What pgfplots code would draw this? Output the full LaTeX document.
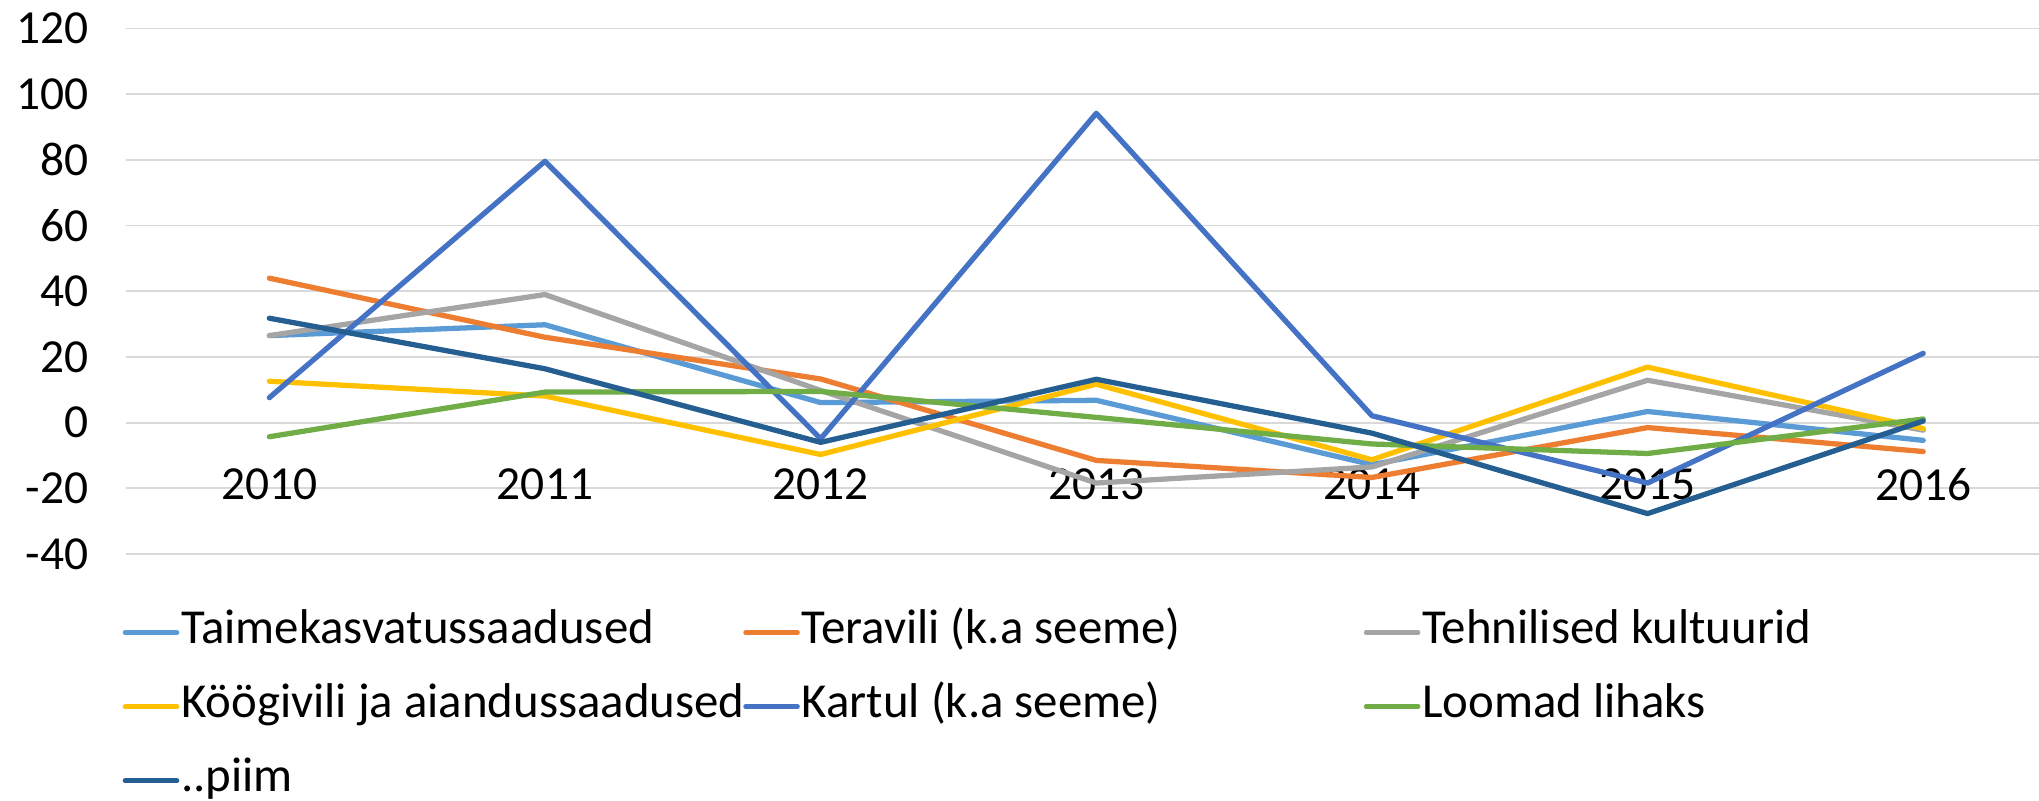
\documentclass[border=0pt]{standalone}
\usepackage{fontspec}
\setmainfont{Carlito}
\usepackage{pgfplots}
\usepackage{pgfplotstable}
\usetikzlibrary{calc}
\pgfplotsset{compat=1.18}

\definecolor{taime}{HTML}{5B9BD5}
\definecolor{tera}{HTML}{ED7D31}
\definecolor{tehn}{HTML}{A5A5A5}
\definecolor{kook}{HTML}{FFC000}
\definecolor{kartul}{HTML}{4472C4}
\definecolor{loomad}{HTML}{70AD47}
\definecolor{piim}{HTML}{255E91}
\definecolor{gridgray}{HTML}{D9D9D9}

% year index 0..6 = 2010..2016
\pgfplotstableread{
x taime tera tehn kook kartul loomad piim
0 26.5 44.0 26.5 12.6 7.6 -4.3 31.8
1 29.8 26.0 39.0 8.1 79.6 9.3 16.4
2 6.1 13.3 9.8 -9.7 -4.9 9.5 -6.0
3 6.8 -11.5 -18.4 11.7 94.2 1.6 13.2
4 -12.8 -16.7 -13.5 -11.3 2.1 -6.5 -3.2
5 3.4 -1.5 12.9 16.9 -18.4 -9.4 -27.7
6 -5.4 -8.8 -2.3 -1.8 21.1 1.1 0.5
}\datatable

\newcommand{\legtext}[1]{\makebox[56mm][l]{#1}}

\begin{document}
\begin{tikzpicture}
\begin{axis}[
  scale only axis,
  width=191.3mm,
  height=52.54mm,
  xmin=-0.52, xmax=6.42,
  ymin=-40, ymax=120,
  xtick={0,1,2,3,4,5,6},
  xticklabels={2010,2011,2012,2013,2014,2015,2016},
  ytick={-40,-20,0,20,40,60,80,100,120},
  yticklabels={-40,-20,0,20,40,60,80,100,120},
  xtick pos=bottom, ytick pos=left,
  major tick length=0pt,
  axis line style={draw=none},
  ymajorgrids=true,
  grid style={draw=gridgray, line width=0.5pt},
  tick label style={font=\fontsize{13.5pt}{16pt}\selectfont},
  xticklabel style={anchor=north, yshift=9.8mm},
  yticklabel style={anchor=east, xshift=-2.5mm},
  every axis plot/.append style={line width=1.5pt, line cap=round, line join=round},
  legend columns=3,
  legend image code/.code={\draw[#1, line width=1.3pt] (0.2mm,0mm) -- (5.4mm,0mm);},
  legend cell align=left,
  legend style={
    at={(rel axis cs:0,0)}, anchor=north west,
    xshift=-0.4mm, yshift=-5.7mm,
    draw=none, fill=none, inner sep=0pt,
    font=\fontsize{13.9pt}{16pt}\selectfont,
    /tikz/column sep=0pt, /tikz/row sep=3.2mm,
    nodes={inner xsep=0.2mm, inner ysep=0pt, text height=3.2mm, text depth=1.0mm},
  },
]
\addplot[color=taime] table[x=x, y=taime] {\datatable};
\addlegendentry{\legtext{Taimekasvatussaadused}}
\addplot[color=tera] table[x=x, y=tera] {\datatable};
\addlegendentry{\legtext{Teravili (k.a seeme)}}
\addplot[color=tehn] table[x=x, y=tehn] {\datatable};
\addlegendentry{\legtext{Tehnilised kultuurid}}
\addplot[color=kook] table[x=x, y=kook] {\datatable};
\addlegendentry{\legtext{Köögivili ja aiandussaadused}}
\addplot[color=kartul] table[x=x, y=kartul] {\datatable};
\addlegendentry{\legtext{Kartul (k.a seeme)}}
\addplot[color=loomad] table[x=x, y=loomad] {\datatable};
\addlegendentry{\legtext{Loomad lihaks}}
\addplot[color=piim] table[x=x, y=piim] {\datatable};
\addlegendentry{\legtext{..piim}}
\coordinate (bl) at (rel axis cs:0,0);
\coordinate (tr) at (rel axis cs:1,1);
\end{axis}
\pgfresetboundingbox
\path[use as bounding box] ($(bl)+(-12.6mm,-24.7mm)$) rectangle ($(tr)+(0mm,2.86mm)$);
\end{tikzpicture}
\end{document}
